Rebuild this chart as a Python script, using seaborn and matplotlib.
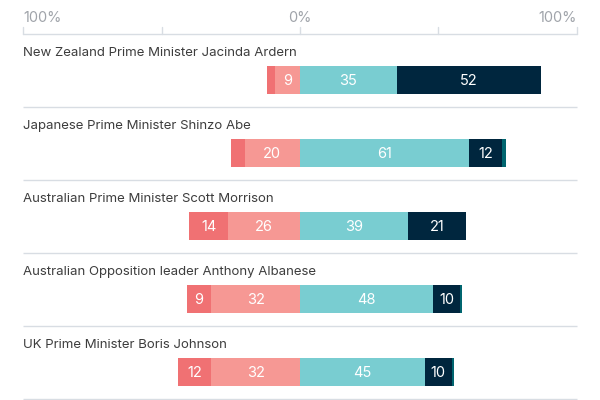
import matplotlib
matplotlib.use('Agg')
import matplotlib.pyplot as plt
import seaborn as sns
import pandas as pd

# Data
leaders = ['New Zealand Prime Minister Jacinda Ardern',
           'Japanese Prime Minister Shinzo Abe',
           'Australian Prime Minister Scott Morrison',
           'Australian Opposition leader Anthony Albanese',
           'UK Prime Minister Boris Johnson']
strongly_disagree = [3, 5, 14, 9, 12]
somewhat_disagree = [9, 20, 26, 32, 32]
somewhat_agree = [35, 61, 39, 48, 45]
strongly_agree = [52, 12, 21, 10, 10]
other = [0, 1.3, 0, 0.4, 0.6]

tick_values = [-100, -50, 0, 50, 100]
tick_labels = {-100: '100%', 0: '0%', 100: '100%'}

colors = {'sd': '#F07173', 'd': '#F69894', 'a': '#79CDD1',
          'sa': '#00263E', 'o': '#00656F'}

df = pd.DataFrame({'leader': leaders, 'sd': strongly_disagree, 'd': somewhat_disagree,
                   'a': somewhat_agree, 'sa': strongly_agree, 'o': other})
df['neg_total'] = -(df['sd'] + df['d'])
df['neg_inner'] = -df['d']
df['pos_total'] = df['a'] + df['sa'] + df['o']
df['pos_mid'] = df['a'] + df['sa']
df['pos_inner'] = df['a']

sns.set_style('white')
plt.rcParams['font.family'] = ['Inter', 'DejaVu Sans']

fig = plt.figure(figsize=(6, 4), dpi=100)
ax = fig.add_axes([23.3 / 600, 0, (576.7 - 23.3) / 600, 1])

bar_w = 0.38
# layered bars: longest first so shorter ones sit on top
layers = [('neg_total', 'sd'), ('neg_inner', 'd'),
          ('pos_total', 'o'), ('pos_mid', 'sa'), ('pos_inner', 'a')]
for col, c in layers:
    sns.barplot(data=df, x=col, y='leader', order=leaders, orient='h',
                color=colors[c], width=bar_w, linewidth=0, saturation=1,
                errorbar=None, ax=ax)

# segment labels
for i, row in df.iterrows():
    segs = [(-row['sd'] - row['d'], row['sd']), (-row['d'], row['d']),
            (0, row['a']), (row['a'], row['sa'])]
    for start, val in segs:
        if val >= 8:
            ax.text(start + val / 2, i + 0.01, f'{val:g}', ha='center', va='center',
                    color='white', fontsize=10.5)
    ax.text(-100, i - 0.33, row['leader'], ha='left', va='baseline',
            color='#3d3d3d', fontsize=9.5, clip_on=False)
    ax.plot([-100, 100], [i + 0.37, i + 0.37], color='#D8DDE3', lw=1,
            clip_on=False, solid_capstyle='butt')

# top axis
ax.plot([-100, 100], [-0.626, -0.626], color='#D8DDE3', lw=1, clip_on=False)
for t in tick_values:
    ax.plot([t, t], [-0.626, -0.726], color='#D8DDE3', lw=1, clip_on=False)
for t, lab in tick_labels.items():
    ha = 'left' if t < 0 else ('right' if t > 0 else 'center')
    ax.text(t, -0.795, lab, ha=ha, va='baseline', color='#A0A4AA',
            fontsize=10.5, clip_on=False)

ax.set_xlim(-100, 100)
ax.set_ylim(4.3836, -1.0959)
ax.axis('off')

fig.savefig('out.png', dpi=100)
